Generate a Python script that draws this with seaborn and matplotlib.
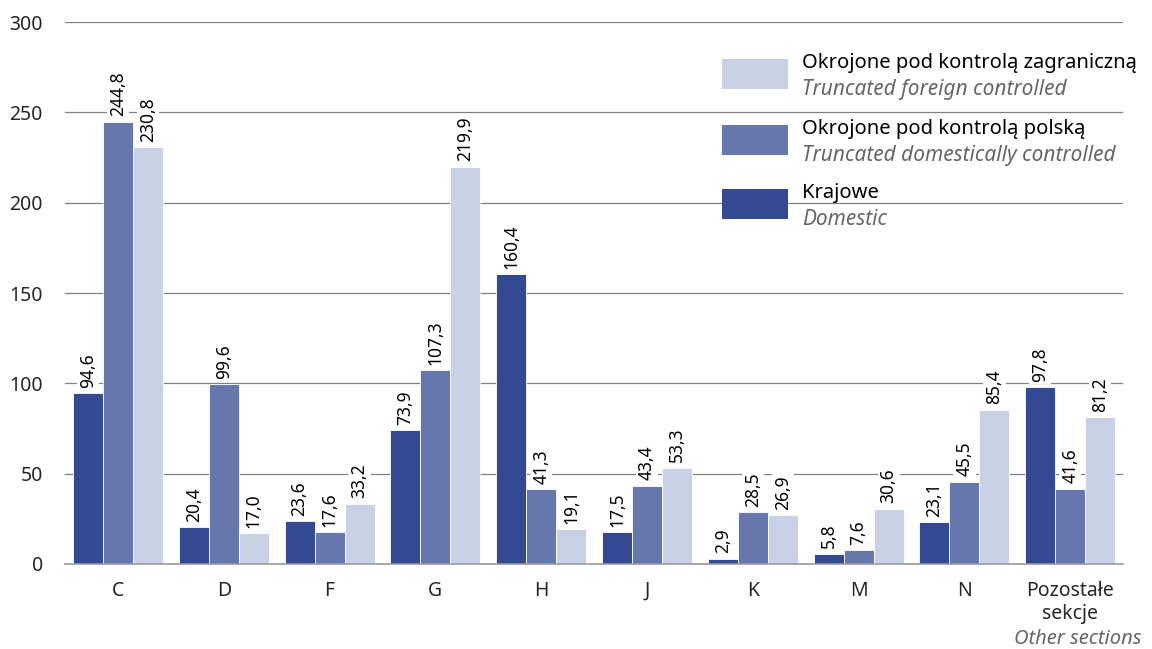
import matplotlib
matplotlib.use('Agg')
import matplotlib.pyplot as plt
import matplotlib.patches as mpatches
import pandas as pd
import seaborn as sns

# data
sections = ['C', 'D', 'F', 'G', 'H', 'J', 'K', 'M', 'N', 'Pozostałe\nsekcje']
krajowe = [94.6, 20.4, 23.6, 73.9, 160.4, 17.5, 2.9, 5.8, 23.1, 97.8]
polska = [244.8, 99.6, 17.6, 107.3, 41.3, 43.4, 28.5, 7.6, 45.5, 41.6]
zagraniczna = [230.8, 17.0, 33.2, 219.9, 19.1, 53.3, 26.9, 30.6, 85.4, 81.2]

series_pl = ['Krajowe', 'Okrojone pod kontrolą polską', 'Okrojone pod kontrolą zagraniczną']
series_en = ['Domestic', 'Truncated domestically controlled', 'Truncated foreign controlled']
colors = ['#334a93', '#6577ad', '#c8d1e5']

df = pd.DataFrame({
    'sekcja': sections * 3,
    'seria': [series_pl[0]] * 10 + [series_pl[1]] * 10 + [series_pl[2]] * 10,
    'wartosc': krajowe + polska + zagraniczna,
})

sns.set_style('white')
plt.rcParams['font.family'] = ['Noto Sans', 'DejaVu Sans']

fig = plt.figure(figsize=(11.52, 6.49), dpi=100)
ax = fig.add_axes([0.0564, 0.131, 0.9186, 0.835])

sns.barplot(data=df, x='sekcja', y='wartosc', hue='seria', order=sections,
            hue_order=series_pl, palette=colors, width=0.85, saturation=1,
            edgecolor='white', linewidth=0.6, errorbar=None, legend=False,
            ax=ax, zorder=3)

for cont in ax.containers:
    labs = [f'{b.get_height():.1f}'.replace('.', ',') for b in cont]
    ax.bar_label(cont, labels=labs, rotation=90, padding=4, fontsize=12.5,
                 color='black', zorder=4,
                 bbox=dict(facecolor='white', edgecolor='none', pad=1.5))

ax.set_ylim(0, 300)
ax.set_xlim(-0.5, len(sections) - 0.5)
ax.set_yticks(range(0, 301, 50))
ax.yaxis.grid(True, color='#808080', linewidth=0.9, zorder=0)
ax.set_axisbelow(True)
ax.tick_params(axis='y', length=0, pad=16, labelsize=14)
ax.tick_params(axis='x', which='major', length=0, pad=12, labelsize=14)
ax.set_xticks([i - 0.5 for i in range(len(sections) + 1)], minor=True)
ax.tick_params(axis='x', which='minor', length=6, width=1.2, color='#999999', direction='out')
ax.set_xlabel('')
ax.set_ylabel('')
for s in ['top', 'right', 'left']:
    ax.spines[s].set_visible(False)
ax.spines['bottom'].set_color('#999999')
ax.spines['bottom'].set_linewidth(1.2)
ax.spines['bottom'].set_zorder(5)

# English subtitle under the last category
ax.text(9.07, -0.139, 'Other sections', transform=ax.get_xaxis_transform(),
        ha='center', va='center', fontsize=14.5, style='italic', color='#666666')

# legend drawn by hand (bilingual labels)
leg_rows = [(2, 0.932), (1, 0.810), (0, 0.692)]
for idx, ytop in leg_rows:
    rect = mpatches.Rectangle((0.621, ytop - 0.0554), 0.0624, 0.0554,
                              transform=ax.transAxes, facecolor=colors[idx],
                              edgecolor='none', clip_on=False, zorder=6)
    ax.add_patch(rect)
    ax.text(0.6966, ytop - 0.008, series_pl[idx], transform=ax.transAxes,
            ha='left', va='center', fontsize=14.5, color='black')
    ax.text(0.6966, ytop - 0.056, series_en[idx], transform=ax.transAxes,
            ha='left', va='center', fontsize=15, style='italic', color='#666666')

fig.savefig('out.png', dpi=100)
